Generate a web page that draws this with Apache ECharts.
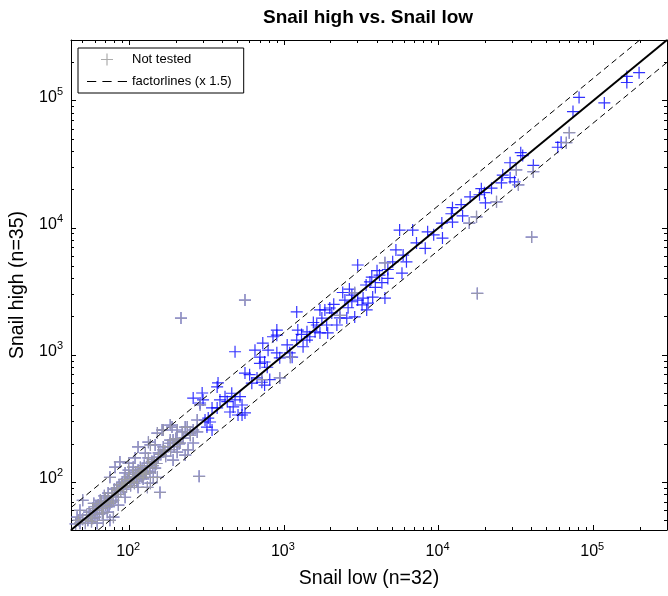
<!DOCTYPE html>
<html>
<head>
<meta charset="utf-8">
<script src="https://cdn.jsdelivr.net/npm/echarts@6/dist/echarts.min.js"></script>
<style>
html, body { margin: 0; padding: 0; background: #fff; }
#Chart { width: 668px; height: 596px; }
</style>
</head>
<body>
<div id="Chart"></div>
<script>
// axis range (both axes) and ticks
var axisMin = 42;
var axisMax = 300000;
var majorTicks = [100, 1000, 10000, 100000];
var minorTicks = [50, 60, 70, 80, 90, 200, 300, 400, 500, 600, 700, 800, 900,
    2000, 3000, 4000, 5000, 6000, 7000, 8000, 9000,
    20000, 30000, 40000, 50000, 60000, 70000, 80000, 90000, 200000];

// [snail low, snail high]
var tested = [
    [165000,155000],[165000,139000],[198000,166000],[81000,106000],[118000,96000],[74000,82000],
    [62000,47000],[59000,43000],[41000,31000],[34000,39000],[35000,37000],[29000,32500],
    [26000,26000],[29000,24800],[25500,22600],[31000,23000],[18900,20300],[19800,18900],
    [18400,18200],[20100,15700],[12300,14400],[12100,12900],[12300,11100],[14300,12400],
    [10500,10900],[5600,9600],[6800,9600],[8500,9300],[10600,8300],[7200,7600],[8200,6900],[9300,8800],
    [5300,6700],[5900,6100],[6200,5400],[5050,5400],[5800,4400],[4700,4700],[4700,4000],
    [4150,4250],[3000,5100],[3700,4100],[3600,3750],[3400,3550],[3900,3400],[4500,2800],
    [3750,2850],[2400,3100],[2750,2950],[2480,2700],[2750,2620],[3000,2700],[3250,2800],
    [3200,2480],[3500,2560],[2600,2350],[3430,2260],[2300,1960],[2550,1950],[2870,1990],
    [1980,2340],[1840,2260],[2040,2140],[1710,2260],[1760,1950],[1890,1720],[2200,1720],
    [1630,1720],[1590,1520],[1410,1520],[1470,1390],[1710,1490],[1920,1490],[1210,2180],
    [1230,1570],[900,1570],[850,1390],[900,1430],[483,1060],[730,1240],[650,1090],[790,1090],
    [900,1040],[700,960],[750,880],[780,800],[700,860],[940,950],[1090,1040],[1130,960],
    [1210,1310],[1330,1160],[1410,1310],[560,720],[600,700],[670,660],[620,600],[720,610],
    [750,580],[810,640],[370,560],[460,500],[520,470],[416,470],[430,430],[386,443],[483,443],
    [470,390],[536,404],[560,350],[505,337],[448,356],[343,383],[300,443],[287,419],[370,383],
    [324,319],[309,308],[318,271],[333,297],[343,257],[259,458],[296,502],[375,603],[536,337],
    [4000,4600],[4300,3700],[2650,3300],[2100,2500],[1550,1800],[1300,1450],[1050,1200],
    [16000,17500],[14000,15200],[22000,20500]
];

var notTested = [
    [31800,28600],[32800,21800],[41000,27600],[70000,56000],[67000,46700],[23700,16000],
    [17600,12200],[15800,10900],[4500,5300],[2870,3080],[2300,2050],[940,660],[1100,960],
    [720,640],[216,1950],[560,2700],[17800,3050],[40000,8450],[283,111],[287,405],[275,308],
    [163,257],[189,271],[220,248],[237,271],[248,234],[223,222],[204,206],[184,202],[147,196],
    [166,189],[259,257],[184,281],[230,271],[248,243],[133,206],[137,196],[184,214],[166,179],
    [204,172],[192,149],[230,163],[154,157],[131,141],[147,129],[121,124],[106,131],[94,118],
    [113,109],[101,100],[90,100],[91,91],[84,86],[114,91],[94,76],[85,66],[79,72],[75,68],
    [68,64],[67,57],[60,53],[54,50],[52,47.5],[48,47.5],[46,53],[48,60],[45,47],[50,72],
    [59,68],[73,82],[65,72],[72,58],[79,53],[75,50],[68,50],[62,47.5],[56,55],[81,131],
    [75,109],[152,109],[137,98],[158,83],[87,144],[127,169],[133,155],[109,155],[99,141],
    [114,124],[99,124],[131,91],[143,109],[121,109],[114,189],[240,179],[213,203],[204,257],
    [275,248],[259,203],[166,257],[192,214],[152,243],
    [55,58],[58,62],[62,60],[63,66],[66,70],[70,66],[70,75],[72,70],[77,78],[78,82],[82,76],
    [83,90],[86,95],[88,84],[92,88],[95,98],[97,104],[100,110],[104,100],[105,115],[108,98],
    [110,120],[116,118],[118,130],[124,115],[125,135],[128,122],[135,130],[140,145],[145,150],
    [150,140],[155,170],[160,165],[170,175],[172,160],[178,190],[185,180],[195,190],[200,220],
    [210,200],[57,49],[64,56],[53,55],[50,51],[47,50],[58,52],[61,64],[66,62],[69,78],[74,64],
    [77,70],[80,88],[85,80],[89,96],[93,105],[96,92],[102,94],[107,106],[112,102],[117,112],
    [123,106],[129,117],[136,120],[142,135]
];

var unityLine = [[42, 42], [300000, 300000]];
var upperFactor = [[42, 63], [200000, 300000]];
var lowerFactor = [[63, 42], [300000, 200000]];

var FONT = 'Liberation Sans, Arial, Helvetica, sans-serif';
var PLUS = 'path://M5.4,0H6.6V5.4H12V6.6H6.6V12H5.4V6.6H0V5.4H5.4Z';
var DASH_ICON = 'path://M0,0H9V1H0ZM15,0H24V1H15ZM30,0H39V1H30Z';
var logMin = Math.log10(axisMin);
var logMax = Math.log10(axisMax);

var Chart = echarts.init(document.getElementById('Chart'));

// helper axes in log10 space, only used to draw the MATLAB style box, ticks and labels
function tickAxis(position, ticks, len, extra) {
    var ax = {
        type: 'value',
        position: position,
        min: logMin,
        max: logMax,
        splitLine: {show: false},
        axisLine: {show: false},
        axisTick: {show: true, inside: true, length: len, customValues: ticks.map(Math.log10),
            lineStyle: {color: '#000', width: 1}},
        axisLabel: {show: false}
    };
    for (var k in extra) ax[k] = extra[k];
    return ax;
}

var boxLine = {show: true, lineStyle: {color: '#000', width: 1}};

function powLabel(v) {
    return '{b|10}{s|' + Math.round(v) + '}';
}
var powRich = {
    b: {fontSize: 16, lineHeight: 16, fontFamily: FONT, color: '#000', verticalAlign: 'bottom'},
    s: {fontSize: 11, lineHeight: 12, fontFamily: FONT, color: '#000', padding: [0, 0, 11, 0]}
};

var ChartOption = {
    animation: false,
    textStyle: {fontFamily: FONT},
    title: {
        text: 'Snail high vs. Snail low',
        left: 263,
        top: 8,
        padding: 0,
        textStyle: {fontSize: 19, fontWeight: 'bold', color: '#000', fontFamily: FONT}
    },
    legend: {
        data: ['Not tested', {name: 'factorlines (x 1.5)', icon: DASH_ICON}],
        orient: 'vertical',
        left: 78,
        top: 48,
        padding: [5, 12, 5, 9],
        itemGap: 9,
        itemWidth: 40,
        itemHeight: 12,
        borderColor: '#000',
        borderWidth: 1,
        borderRadius: 0,
        backgroundColor: '#fff',
        textStyle: {fontSize: 13, color: '#000', fontFamily: FONT}
    },
    grid: {left: 71, right: 1, top: 40, bottom: 66, containLabel: false},
    xAxis: [
        {type: 'log', logBase: 10, min: axisMin, max: axisMax, show: false},
        tickAxis('bottom', majorTicks, 5, {
            axisLine: boxLine,
            axisLabel: {show: true, customValues: majorTicks.map(Math.log10), margin: 14,
                padding: [0, 2, 0, 0], formatter: powLabel, rich: powRich},
            name: 'Snail low (n=32)',
            nameLocation: 'middle',
            nameGap: 39,
            nameTextStyle: {fontSize: 19.5, color: '#000', fontFamily: FONT}
        }),
        tickAxis('bottom', minorTicks, 3, {}),
        tickAxis('top', majorTicks, 5, {axisLine: boxLine}),
        tickAxis('top', minorTicks, 3, {})
    ],
    yAxis: [
        {type: 'log', logBase: 10, min: axisMin, max: axisMax, show: false},
        tickAxis('left', majorTicks, 5, {
            axisLine: boxLine,
            axisLabel: {show: true, customValues: majorTicks.map(Math.log10), margin: 8,
                padding: [0, 0, 7, 0], formatter: powLabel, rich: powRich},
            name: 'Snail high (n=35)',
            nameLocation: 'middle',
            nameGap: 43,
            nameTextStyle: {fontSize: 19.5, color: '#000', fontFamily: FONT}
        }),
        tickAxis('left', minorTicks, 3, {}),
        tickAxis('right', majorTicks, 5, {axisLine: boxLine}),
        tickAxis('right', minorTicks, 3, {})
    ],
    series: [
        {name: 'Tested', type: 'scatter', data: tested, symbol: PLUS, symbolSize: 12,
            itemStyle: {color: '#0000ff'}},
        {name: 'Not tested (under)', type: 'scatter', data: notTested, symbol: PLUS, symbolSize: 12,
            itemStyle: {color: '#3030ff'}},
        {name: 'Not tested', type: 'scatter', data: notTested, symbol: PLUS, symbolSize: 12,
            itemStyle: {color: '#a0a0a0', opacity: 0.88}},
        {name: 'Unity', type: 'line', data: unityLine, symbol: 'none',
            lineStyle: {color: '#000', width: 2}},
        {name: 'factorlines (x 1.5)', type: 'line', data: upperFactor, symbol: 'none',
            itemStyle: {color: '#000'},
            lineStyle: {color: '#000', width: 1, type: [6, 4]}},
        {name: 'factorlines (x 1.5)', type: 'line', data: lowerFactor, symbol: 'none',
            itemStyle: {color: '#000'},
            lineStyle: {color: '#000', width: 1, type: [6, 4]}}
    ]
};

Chart.setOption(ChartOption);

window.addEventListener("resize", function () {
    Chart.resize();
});
</script>
</body>
</html>
